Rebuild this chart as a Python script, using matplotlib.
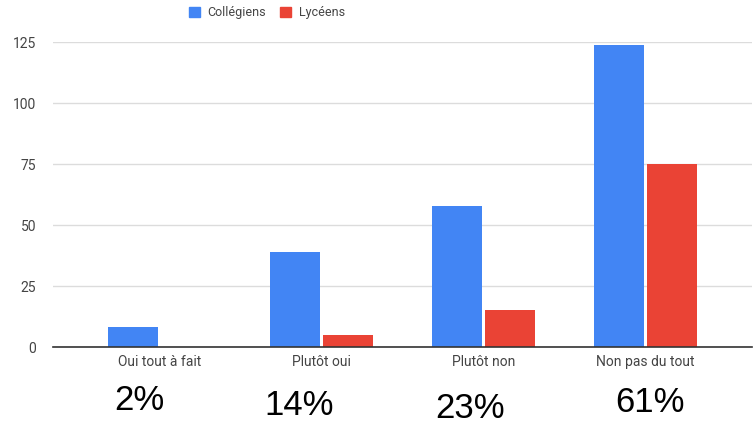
import numpy as np
import matplotlib.pyplot as plt
from matplotlib.patches import Patch

# data
categories = ["Oui tout à fait", "Plutôt oui", "Plutôt non", "Non pas du tout"]
collegiens = [8, 39, 58, 124]
lyceens = [0, 5, 15, 75]
percents = ["2%", "14%", "23%", "61%"]
yticks = [0, 25, 50, 75, 100, 125]

blue = "#4285F4"
red = "#EA4335"

plt.rcParams['font.family'] = ['Roboto', 'DejaVu Sans']

fig = plt.figure(figsize=(7.56, 4.25), dpi=100)
ax = fig.add_axes([0.070, 0.1835, 0.925, 0.7175])

x = np.arange(len(categories))
w = 0.31
gap = 0.01
ax.bar(x - w / 2 - gap, collegiens, w, color=blue, zorder=3)
ax.bar(x + w / 2 + gap, lyceens, w, color=red, zorder=3)

ax.set_xlim(-0.66, 3.66)
ax.set_ylim(0, 125)
ax.set_yticks(yticks)
ax.set_xticks(x)
ax.set_xticklabels(categories)
ax.tick_params(axis='both', length=0, labelsize=10, colors="#444444")
ax.tick_params(axis='x', pad=6)
ax.tick_params(axis='y', pad=12)
ax.grid(axis='y', color="#dcdcdc", linewidth=1, zorder=0)
for s in ["top", "right", "left"]:
    ax.spines[s].set_visible(False)
ax.spines["bottom"].set_color("#333333")
ax.spines["bottom"].set_linewidth(1.2)
ax.spines["bottom"].set_zorder(4)

# big percentage labels under the categories
offsets = [-0.125, -0.14, -0.08, 0.03]
ylevels = [0.058, 0.047, 0.040, 0.052]
for i, p in enumerate(percents):
    xf = ax.transData.transform((x[i] + offsets[i], 0))[0] / fig.bbox.width
    fig.text(xf, ylevels[i], p, ha='center', va='center', fontsize=25,
             family=['Liberation Sans', 'DejaVu Sans'], color="black")

handles = [Patch(color=blue, label="Collégiens"), Patch(color=red, label="Lycéens")]
fig.legend(handles=handles, loc='center', bbox_to_anchor=(0.353, 0.970), ncol=2,
           frameon=False, fontsize=9, handlelength=0.9, handleheight=0.9,
           columnspacing=1.1, handletextpad=0.6, labelcolor="#444444")

fig.savefig("out.png", dpi=100)
